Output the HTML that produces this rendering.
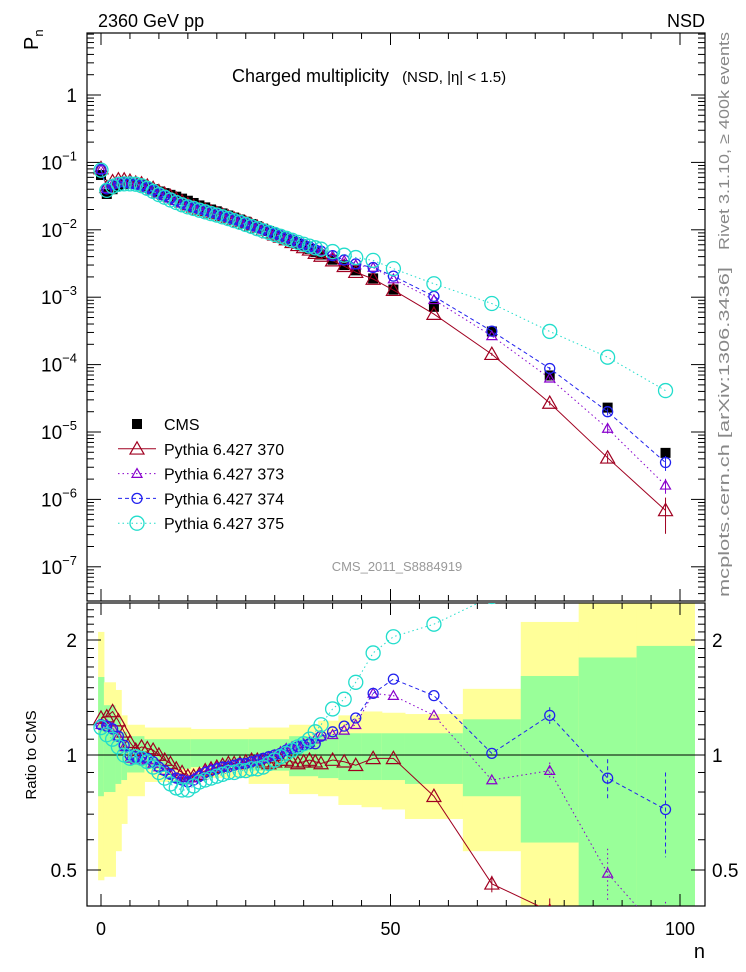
<!DOCTYPE html>
<html><head><meta charset="utf-8"><style>
html,body{margin:0;padding:0;background:#fff;width:746px;height:972px;overflow:hidden}
svg{display:block;font-family:"Liberation Sans",sans-serif}
</style></head><body>
<svg id="c" width="746" height="972" viewBox="0 0 746 972" xmlns="http://www.w3.org/2000/svg">
<text x="98" y="27" font-size="18">2360 GeV pp</text>
<text x="705" y="27" font-size="18" text-anchor="end">NSD</text>
<text x="232" y="82" font-size="18">Charged multiplicity <tspan font-size="15" dx="8">(NSD, |η| &lt; 1.5)</tspan></text>
<text transform="translate(38,50) rotate(-90)" font-size="20">P<tspan font-size="13" dy="5">n</tspan></text>
<text transform="translate(36,755) rotate(-90)" font-size="15" text-anchor="middle">Ratio to CMS</text>
<text x="705" y="958" font-size="20" text-anchor="end">n</text>
<text transform="translate(729,250) rotate(-90)" font-size="15" fill="#888" textLength="218" lengthAdjust="spacingAndGlyphs">Rivet 3.1.10, ≥ 400k events</text>
<text transform="translate(729,597) rotate(-90)" font-size="15" fill="#888" textLength="330" lengthAdjust="spacingAndGlyphs">mcplots.cern.ch [arXiv:1306.3436]</text>
<text x="397" y="571" font-size="13" fill="#999" text-anchor="middle">CMS_2011_S8884919</text>
<g id="g"></g>
</svg>
<script>
const nVals=[0,1,2,3,4,5,6,7,8,9,10,11,12,13,14,15,16,17,18,19,20,21,22,23,24,25,26,27,28,29,30,31,32,33,34,35,36,37,38,40,42,44,47,50.5,57.5,67.5,77.5,87.5,97.5];
const cms=[.065,.034,.040,.045,.048,.049,.048,.046,.043,.040,.037,.035,.033,.031,.029,.027,.025,.023,.0215,.020,.0188,.0175,.0163,.0152,.0142,.0132,.0122,.0113,.0104,.0096,.0088,.0081,.0074,.0068,.0062,.0057,.0052,.0047,.0043,.0036,.0030,.0025,.0019,.0013,7.2e-4,3.1e-4,6.9e-5,2.3e-5,4.9e-6];
const r370=[1.25,1.26,1.3,1.23,1.15,1.08,1.03,1.05,1.04,1.03,1.0,.97,.95,.92,.90,.88,.88,.89,.91,.92,.93,.94,.95,.95,.95,.96,.97,.97,.96,.95,.96,.97,.97,.96,.95,.96,.97,.96,.95,.97,.96,.94,.98,.98,.78,.46,.39,.18,.14];
const r373=[1.2,1.2,1.18,1.12,1.05,.98,.97,.98,.97,.95,.93,.91,.89,.87,.86,.86,.87,.89,.91,.92,.93,.93,.94,.94,.95,.95,.96,.97,.98,.99,1.0,1.02,1.04,1.05,1.06,1.07,1.08,1.1,1.12,1.13,1.16,1.2,1.45,1.43,1.27,.86,.91,.49,.33];
const r374=[1.2,1.19,1.17,1.12,1.06,1.0,.99,.99,.98,.96,.93,.91,.89,.87,.86,.85,.86,.88,.9,.91,.92,.93,.93,.94,.95,.95,.96,.97,.98,.99,1.0,1.01,1.03,1.04,1.05,1.06,1.07,1.07,1.12,1.15,1.19,1.25,1.45,1.58,1.43,1.01,1.27,.87,.72];
const r375=[1.18,1.13,1.1,1.05,1.0,.98,.99,.98,.96,.93,.9,.87,.84,.82,.81,.81,.83,.85,.86,.87,.88,.89,.9,.9,.91,.91,.92,.92,.93,.95,.97,.99,1.01,1.03,1.05,1.07,1.1,1.15,1.2,1.32,1.4,1.55,1.85,2.04,2.2,2.6,4.5,5.6,8.4];
const relErr374=[0,0,0,0,0,0,0,0,0,0,0,0,0,0,0,0,0,0,0,0,0,0,0,0,0,0,0,0,0,0,0,0,0,0,0,0,0,0,0,0,0,0,0,0,0,0,.05,.12,.25];
const relErr373=[0,0,0,0,0,0,0,0,0,0,0,0,0,0,0,0,0,0,0,0,0,0,0,0,0,0,0,0,0,0,0,0,0,0,0,0,0,0,0,0,0,0,0,0,0,0,.05,.16,.25];
const relErr370=[0,0,0,0,0,0,0,0,0,0,0,0,0,0,0,0,0,0,0,0,0,0,0,0,0,0,0,0,0,0,0,0,0,0,0,0,0,0,0,0,0,0,0,0,0,.05,.08,.15,.55];
const bandLo=[-0.5,0.5,2.5,3.5,4.5,7.5,15.5,25.5,32.5,37.5,41,45,48.5,52.5,62.5,72.5,82.5,92.5];
const bandHi=[0.5,2.5,3.5,4.5,7.5,15.5,25.5,32.5,37.5,41,45,48.5,52.5,62.5,72.5,82.5,92.5,102.5];
const yelLo=[.47,.48,.56,.66,.78,.85,.87,.84,.79,.78,.74,.73,.72,.68,.56,.3,.3,.3];
const yelHi=[2.1,1.55,1.48,1.27,1.2,1.18,1.17,1.18,1.2,1.23,1.27,1.3,1.29,1.28,1.49,2.23,3,3];
const grnLo=[.78,.80,.84,.86,.90,.92,.93,.91,.88,.87,.86,.86,.86,.84,.78,.59,.3,.3];
const grnHi=[1.6,1.35,1.25,1.15,1.12,1.1,1.1,1.1,1.12,1.13,1.14,1.14,1.14,1.14,1.24,1.61,1.8,1.93];
const xTickMajor=[0,50,100];

const NS="http://www.w3.org/2000/svg";
const g=document.getElementById('g');
const L=87,R=705,T=33,MB=601,RT=603,RB=906;
const X=n=>101+n*5.79;
const Ym=v=>95-67.4*Math.log10(v);
const Yr=v=>755-382*Math.log10(v);
function el(t,a,p){const e=document.createElementNS(NS,t);for(const k in a)e.setAttribute(k,a[k]);(p||g).appendChild(e);return e;}
const clipM=el('clipPath',{id:'cm'});el('rect',{x:L,y:T,width:R-L,height:MB-T},clipM);
const clipR=el('clipPath',{id:'cr'});el('rect',{x:L,y:RT,width:R-L,height:RB-RT},clipR);

const bands=el('g',{'clip-path':'url(#cr)'});


for(let i=0;i<bandLo.length;i++){
 const y=el('rect',{x:X(bandLo[i]),y:Yr(yelHi[i]),width:X(bandHi[i])-X(bandLo[i])+0.5,height:Yr(yelLo[i])-Yr(yelHi[i]),fill:'#ffff99'},bands);
 
 
 const gr=el('rect',{x:X(bandLo[i]),y:Yr(grnHi[i]),width:X(bandHi[i])-X(bandLo[i])+0.5,height:Yr(grnLo[i])-Yr(grnHi[i]),fill:'#99ff99'},bands);
 
 
}
el('line',{x1:L,x2:R,y1:Yr(1),y2:Yr(1),stroke:'#000','stroke-width':1});

for(const [t,b,nm] of [[T,MB,'main-frame'],[RT,RB,'ratio-frame']]){
 const f=el('rect',{x:L,y:t,width:R-L,height:b-t,fill:'none',stroke:'#000','stroke-width':1.2});
 
 
}
for(let n=0;n<=100;n+=5){
 const len=n%50===0?12:6;
 for(const [y,d] of [[T,1],[MB,-1],[RT,1],[RB,-1]]) el('line',{x1:X(n),x2:X(n),y1:y,y2:y+d*len,stroke:'#000'});
}
xTickMajor.forEach(n=>{const t=el('text',{x:X(n),y:935,'font-size':18,'text-anchor':'middle'});t.textContent=n;
 
 });
for(let e=-8;e<=0;e++){for(let m=1;m<10;m++){const v=m*Math.pow(10,e);const y=Ym(v);if(y<T||y>MB)continue;
 const len=m===1?14:7;el('line',{x1:L,x2:L+len,y1:y,y2:y,stroke:'#000'});el('line',{x1:R,x2:R-len,y1:y,y2:y,stroke:'#000'});}}
for(let e=-7;e<=0;e++){const y=Ym(Math.pow(10,e));const t=el('text',{x:77,y:y+7,'font-size':19,'text-anchor':'end'});
 if(e===0)t.textContent='1';else{t.textContent='10';const s=el('tspan',{dy:-9,'font-size':13},t);s.textContent='−'+(-e);}
 
 }
for(let v=0.4;v<=2.5001;v+=0.1){const y=Yr(v);if(y<RT||y>RB)continue;const maj=Math.abs(v-0.5)<1e-6||Math.abs(v-1)<1e-6||Math.abs(v-2)<1e-6;
 const len=maj?14:7;el('line',{x1:L,x2:L+len,y1:y,y2:y,stroke:'#000'});el('line',{x1:R,x2:R-len,y1:y,y2:y,stroke:'#000'});}
[[0.5,'0.5'],[1,'1'],[2,'2']].forEach(([v,s])=>{
 const a=el('text',{x:77,y:Yr(v)+7,'font-size':19,'text-anchor':'end'});a.textContent=s;
 
 
 const b=el('text',{x:712,y:Yr(v)+7,'font-size':19});b.textContent=s;
 
 });

function marker(par,type,x,y,c,s){
 if(type==='sq')return el('rect',{x:x-5,y:y-5,width:10,height:10,fill:'#000'},par);
 if(type==='tri')return el('path',{d:`M${x},${y-s} L${x+s},${y+s*0.75} L${x-s},${y+s*0.75}Z`,fill:'none',stroke:c,'stroke-width':1.2},par);
 return el('circle',{cx:x,cy:y,r:s,fill:'none',stroke:c,'stroke-width':1.3},par);
}
const series=[
 {name:'pythia-370',r:r370,c:'#a00020',m:'tri',s:7,dash:'',err:relErr370},
 {name:'pythia-373',r:r373,c:'#8800cc',m:'tri',s:5,dash:'1.5,3',err:relErr373},
 {name:'pythia-374',r:r374,c:'#2222ee',m:'circ',s:5,dash:'4,3',err:relErr374},
 {name:'pythia-375',r:r375,c:'#22ddcc',m:'circ',s:7,dash:'1.5,3',err:null},
];
const mg=el('g',{'clip-path':'url(#cm)'});
const cg=el('g',{},mg);


nVals.forEach((n,i)=>{const m=marker(cg,'sq',X(n),Ym(cms[i]));
 
 });
series.forEach(S=>{
 const sg=el('g',{},mg);
 
 
 const pts=nVals.map((n,i)=>X(n)+','+Ym(cms[i]*S.r[i])).join(' ');
 el('polyline',{points:pts,fill:'none',stroke:S.c,'stroke-width':1,'stroke-dasharray':S.dash},sg);
 nVals.forEach((n,i)=>{const v=cms[i]*S.r[i];
  if(S.err&&S.err[i]>0){el('line',{x1:X(n),x2:X(n),y1:Ym(v*(1+S.err[i])),y2:Ym(v*(1-S.err[i])),stroke:S.c},sg);}
  const m=marker(sg,S.m,X(n),Ym(v),S.c,S.s);
  
  });
});
const rg=el('g',{'clip-path':'url(#cr)'});
series.forEach(S=>{
 const sg=el('g',{},rg);
 
 
 el('polyline',{points:nVals.map((n,i)=>X(n)+','+Yr(S.r[i])).join(' '),fill:'none',stroke:S.c,'stroke-width':1,'stroke-dasharray':S.dash},sg);
 nVals.forEach((n,i)=>{
  if(S.err&&S.err[i]>0){el('line',{x1:X(n),x2:X(n),y1:Yr(S.r[i]*(1+S.err[i])),y2:Yr(S.r[i]*(1-S.err[i])),stroke:S.c,'stroke-dasharray':S.dash},sg);}
  const m=marker(sg,S.m,X(n),Yr(S.r[i]),S.c,S.s);
  
  });
});
const lg=el('g',{});


const labels=['CMS','Pythia 6.427 370','Pythia 6.427 373','Pythia 6.427 374','Pythia 6.427 375'];
labels.forEach((lab,i)=>{
 const y=424+i*24.8;
 const e=el('g',{},lg);
 
 
 if(i===0)marker(e,'sq',137,y);
 else{const S=series[i-1];el('line',{x1:118,x2:156,y1:y,y2:y,stroke:S.c,'stroke-dasharray':S.dash},e);marker(e,S.m,137,y,S.c,S.s);}
 const t=el('text',{x:164,y:y+6,'font-size':16},e);t.textContent=lab;
});
</script>
</body></html>
